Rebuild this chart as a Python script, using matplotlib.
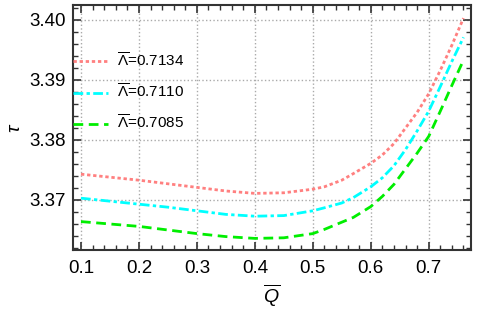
import matplotlib
matplotlib.use('Agg')
import matplotlib.pyplot as plt
import numpy as np
from matplotlib.ticker import MultipleLocator

plt.rcParams['font.family'] = ['Liberation Sans', 'DejaVu Sans']
plt.rcParams['mathtext.fontset'] = 'custom'
plt.rcParams['mathtext.rm'] = 'Liberation Sans'
plt.rcParams['mathtext.it'] = 'Liberation Sans:italic'

# Q values
q = [0.10, 0.15, 0.20, 0.25, 0.30, 0.35, 0.40, 0.45, 0.50, 0.52, 0.55,
     0.57, 0.60, 0.62, 0.64, 0.66, 0.68, 0.70, 0.72, 0.74, 0.76]

tau_7134 = [3.3743, 3.3738, 3.3733, 3.3727, 3.3721, 3.3715, 3.3711, 3.3712, 3.3718, 3.3722, 3.3733,
            3.3744, 3.3761, 3.3775, 3.3794, 3.3820, 3.3846, 3.3877, 3.3916, 3.3958, 3.4003]
tau_7110 = [3.3703, 3.3698, 3.3693, 3.3688, 3.3682, 3.3676, 3.3673, 3.3674, 3.3682, 3.3687, 3.3695,
            3.3704, 3.3722, 3.3737, 3.3757, 3.3784, 3.3815, 3.3848, 3.3889, 3.3931, 3.3971]
tau_7085 = [3.3664, 3.3660, 3.3656, 3.3650, 3.3644, 3.3639, 3.3636, 3.3637, 3.3644, 3.3651, 3.3663,
            3.3671, 3.3689, 3.3706, 3.3726, 3.3752, 3.3778, 3.3806, 3.3848, 3.3891, 3.3933]

labels = [r'$\overline{\Lambda}$=0.7134', r'$\overline{\Lambda}$=0.7110', r'$\overline{\Lambda}$=0.7085']

fig = plt.figure(figsize=(4.78, 3.09), dpi=100)
ax = fig.add_axes([0.1527, 0.191, 0.8327, 0.793])

ax.plot(q, tau_7134, color='#FF8080', ls=(0, (1.2, 1.0)), lw=2, label=labels[0])
ax.plot(q, tau_7110, color='#00FFFF', ls=(0, (3.5, 1.2, 1.2, 1.2)), lw=2, label=labels[1])
ax.plot(q, tau_7085, color='#00EE00', ls=(0, (3.5, 2.0)), lw=2, label=labels[2])

ax.set_xlim(0.0862, 0.773)
ax.set_ylim(3.36167, 3.4025)
ax.xaxis.set_minor_locator(MultipleLocator(0.02))
ax.yaxis.set_minor_locator(MultipleLocator(0.002))
ax.set_yticks([3.37, 3.38, 3.39, 3.40])
ax.set_yticklabels(['3.37', '3.38', '3.39', '3.40'])
ax.set_xticks([0.1, 0.2, 0.3, 0.4, 0.5, 0.6, 0.7])
ax.set_xticklabels(['0.1', '0.2', '0.3', '0.4', '0.5', '0.6', '0.7'])

ax.grid(True, which='major', ls=':', color='#AAAAAA', lw=1)
ax.tick_params(which='both', direction='in', top=True, right=True, color='#333333', labelsize=13.5)
ax.tick_params(which='major', length=6, width=1.2)
ax.tick_params(which='minor', length=3.5, width=1)
ax.tick_params(axis='x', pad=7)
ax.tick_params(axis='y', pad=5)
for s in ax.spines.values():
    s.set_color('#333333')
    s.set_linewidth(1.5)

ax.set_xlabel(r'$\overline{Q}$', fontsize=14, labelpad=4)
ax.set_ylabel(r'$\tau$', fontsize=14, labelpad=4)

ax.legend(loc='upper left', bbox_to_anchor=(0.0, 0.81), frameon=False, fontsize=11,
          handlelength=2.3, handletextpad=0.6, labelspacing=0.86, borderpad=0, borderaxespad=0)

fig.savefig('out.png', dpi=100)
